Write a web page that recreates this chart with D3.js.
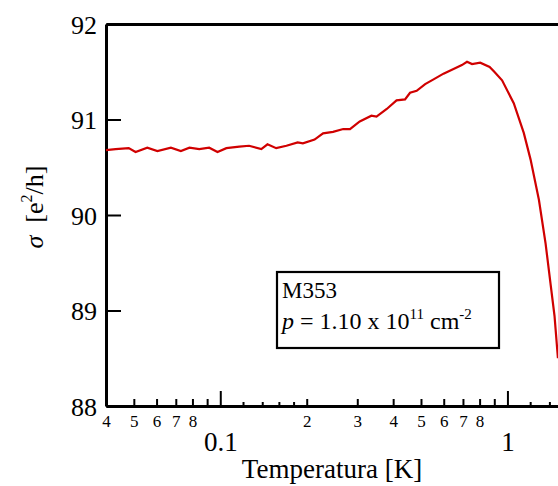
<!DOCTYPE html>
<html>
<head>
<meta charset="utf-8">
<script src="https://cdn.jsdelivr.net/npm/d3@7"></script>
<style>
  body { margin: 0; background: #fff; }
  svg text { font-family: "Liberation Serif", "Times New Roman", serif; fill: #000; }
</style>
</head>
<body>
<div id="chart"></div>
<script>
// values
const temp = [0.040, 0.0432, 0.048, 0.0507, 0.0557, 0.0604, 0.0673, 0.0729, 0.0781, 0.0845,
  0.0915, 0.0978, 0.105, 0.1165, 0.126, 0.139, 0.146, 0.1566, 0.170, 0.186,
  0.194, 0.213, 0.228, 0.247, 0.268, 0.283, 0.306, 0.336, 0.350, 0.380,
  0.411, 0.440, 0.458, 0.483, 0.517, 0.553, 0.599, 0.649, 0.694, 0.723,
  0.753, 0.804, 0.867, 0.90, 0.958, 1.052, 1.140, 1.204, 1.287, 1.358,
  1.413, 1.459, 1.499];
const sigma = [90.68, 90.69, 90.70, 90.66, 90.705, 90.67, 90.705, 90.67, 90.705, 90.69,
  90.705, 90.66, 90.70, 90.715, 90.725, 90.69, 90.74, 90.70, 90.725, 90.76,
  90.75, 90.79, 90.855, 90.87, 90.90, 90.90, 90.98, 91.04, 91.03, 91.11,
  91.20, 91.21, 91.28, 91.30, 91.37, 91.42, 91.48, 91.53, 91.57, 91.605,
  91.58, 91.595, 91.55, 91.50, 91.41, 91.17, 90.86, 90.58, 90.16, 89.70,
  89.28, 88.94, 88.50];

const yTicks = [88, 89, 90, 91, 92];
const majorTicks = [0.1, 1];
const majorLabels = ["0.1", "1"];
const digitTicks = [0.04, 0.05, 0.06, 0.07, 0.08, 0.2, 0.3, 0.4, 0.5, 0.6, 0.7, 0.8];
const digitLabels = ["4", "5", "6", "7", "8", "2", "3", "4", "5", "6", "7", "8"];
const plainTicks = [0.09, 0.9];
const smallTicks = [0.12, 0.14, 0.16, 0.18, 1.2, 1.4];

let width = 558, height = 486;
let mLeft = 106, mRight = 558, mTop = 24, mBottom = 406;

let svg = d3.select("#chart").append("svg")
  .attr("width", width).attr("height", height);

let x = d3.scaleLog().domain([0.04, 1.5]).range([mLeft, mRight]);
let y = d3.scaleLinear().domain([88, 92]).range([mBottom, mTop]);

function styleAxis(g, w) {
  g.selectAll("path.domain").attr("stroke-width", w);
  g.selectAll(".tick line").attr("stroke-width", 2);
}

// x axis: domain line + digit ticks
let gx = svg.append("g").attr("transform", `translate(0,${mBottom})`)
  .call(d3.axisBottom(x).tickValues(digitTicks).tickSize(-7).tickSizeOuter(0).tickPadding(9)
    .tickFormat((d, i) => digitLabels[i]));
gx.selectAll("text").attr("font-size", 17);
styleAxis(gx, 3);

let gMaj = svg.append("g").attr("transform", `translate(0,${mBottom})`)
  .call(d3.axisBottom(x).tickValues(majorTicks).tickSize(-15).tickPadding(26)
    .tickFormat((d, i) => majorLabels[i]));
gMaj.select(".domain").remove();
gMaj.selectAll("text").attr("font-size", 27);
styleAxis(gMaj, 3);

let gPlain = svg.append("g").attr("transform", `translate(0,${mBottom})`)
  .call(d3.axisBottom(x).tickValues(plainTicks).tickSize(-7).tickFormat(""));
gPlain.select(".domain").remove();
styleAxis(gPlain, 3);

let gSmall = svg.append("g").attr("transform", `translate(0,${mBottom})`)
  .call(d3.axisBottom(x).tickValues(smallTicks).tickSize(-4).tickFormat(""));
gSmall.select(".domain").remove();
styleAxis(gSmall, 3);

// top border
let gTop = svg.append("g").attr("transform", `translate(0,${mTop})`)
  .call(d3.axisTop(x).tickValues([]).tickSizeOuter(0));
styleAxis(gTop, 3);

// y axis
let gy = svg.append("g").attr("transform", `translate(${mLeft},0)`)
  .call(d3.axisLeft(y).tickValues(yTicks).tickSize(-15).tickSizeOuter(0).tickPadding(9)
    .tickFormat(d3.format("d")));
gy.selectAll("text").attr("font-size", 26).attr("dy", "0.35em");
styleAxis(gy, 3);

// curve
let line = d3.line().x((d, i) => x(temp[i])).y(d => y(d));
svg.append("path")
  .attr("d", line(sigma))
  .attr("fill", "none")
  .attr("stroke", "#d00000")
  .attr("stroke-width", 2.2);

// axis titles
svg.append("text")
  .attr("x", 332).attr("y", 478)
  .attr("text-anchor", "middle")
  .attr("font-size", 27)
  .text("Temperatura [K]");

let yt = svg.append("text")
  .attr("transform", "translate(43,207) rotate(-90)")
  .attr("text-anchor", "middle")
  .attr("font-size", 26)
  .attr("xml:space", "preserve")
  .style("white-space", "pre");
yt.append("tspan").attr("font-style", "italic").text("σ");
yt.append("tspan").text("  [e");
yt.append("tspan").attr("font-size", 16).attr("dy", -11).text("2");
yt.append("tspan").attr("dy", 11).text("/h]");

// legend box
svg.append("rect")
  .attr("x", 277).attr("y", 272).attr("width", 222).attr("height", 76)
  .attr("fill", "#fff").attr("stroke", "#000").attr("stroke-width", 2.2);

svg.append("text").attr("x", 282).attr("y", 298).attr("font-size", 23).text("M353");
let lt = svg.append("text").attr("x", 282).attr("y", 329).attr("font-size", 24);
lt.append("tspan").attr("font-style", "italic").text("p");
lt.append("tspan").text(" = 1.10 x 10");
lt.append("tspan").attr("font-size", 15).attr("dy", -10).text("11");
lt.append("tspan").attr("dy", 10).text(" cm");
lt.append("tspan").attr("font-size", 15).attr("dy", -10).text("-2");
</script>
</body>
</html>
